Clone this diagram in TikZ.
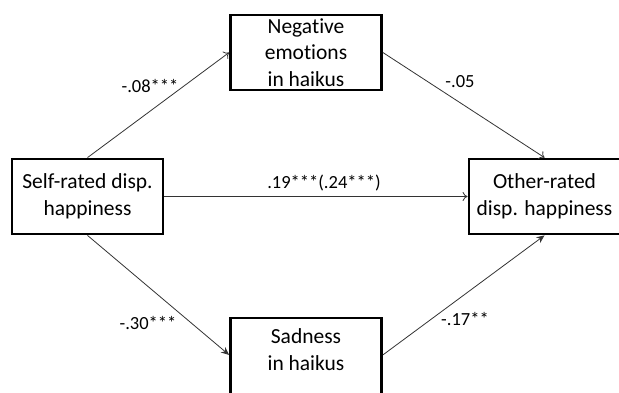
\documentclass[tikz,border=0pt]{standalone}
\usepackage{fontspec}
\setmainfont{Carlito}[Ligatures=NoCommon]
\usetikzlibrary{arrows.meta}
\begin{document}
\begin{tikzpicture}[x=1pt,y=-1pt,
  box/.style={draw=black, line width=2.8pt, fill=white, minimum width=151pt, minimum height=75pt,
    inner sep=0pt, align=center, font=\fontsize{21.5}{26.7}\selectfont},
  lab/.style={font=\fontsize{18.5}{22}\selectfont, inner sep=0pt},
  openarr/.style={draw=black!80, line width=0.8pt, -{To[length=5pt,width=9pt]}},
  fillarr/.style={draw=black!80, line width=0.8pt, -{Stealth[length=8pt,width=7pt]}}]
\useasboundingbox (0,0) rectangle (619,392);
\node[box] (neg) at (306,52.5) {Negat\kern0pt ive\\emotions\\in haikus};
\node[box] (self) at (87.5,196.5) {Self-rated disp.\\happiness};
\node[box] (other) at (544.5,196.5) {Other-rated\\disp. happiness};
\node[box, minimum height=90pt] (sad) at (306,363) {Sadness\\in haikus\\\mbox{}};
\draw[openarr] (self.north) -- (neg.west);
\draw[openarr] (neg.east) -- (other.north);
\draw[openarr] (self.east) -- (other.west);
\draw[fillarr] (self.south) -- (sad.174);
\draw[fillarr] (sad.6) -- (other.south);
\node[lab] (l1) at (150,86) {-.08***};
\node[lab] (l2) at (460,82) {-.05};
\node[lab] (l3) at (324,183) {.19***(.24***)};
\node[lab] (l4) at (148,323) {-.30***};
\node[lab] (l5) at (465,319) {-.17**};
\end{tikzpicture}
\end{document}
